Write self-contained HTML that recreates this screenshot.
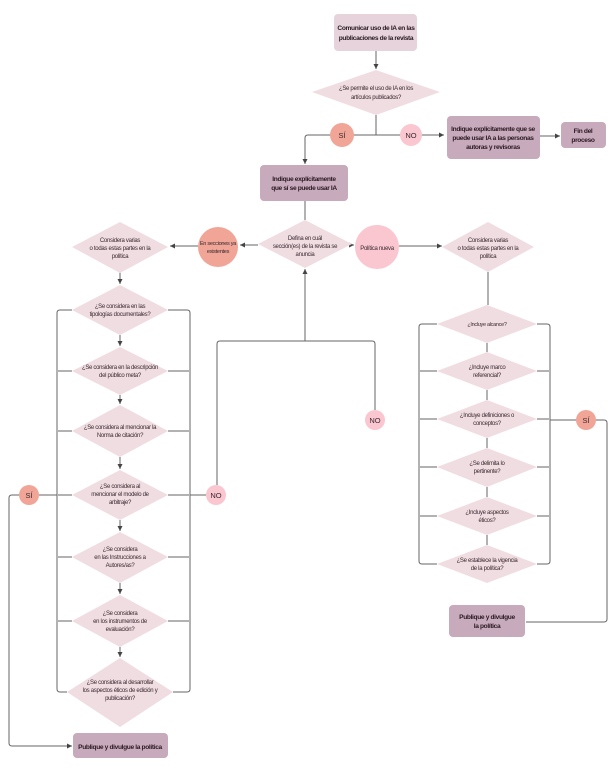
<!DOCTYPE html>
<html><head><meta charset="utf-8"><style>
html,body{margin:0;padding:0;background:#fff;}
svg{display:block;}
text{font-family:"Liberation Sans",sans-serif;font-size:6px;fill:#3a2a30;text-anchor:middle;letter-spacing:-0.3px;}
.b{font-weight:bold;font-size:6.6px;fill:#2a1a22;letter-spacing:-0.35px;}
.c{font-size:7.5px;fill:#3a2a30;letter-spacing:0;}
</style></head><body>
<svg width="616" height="774" viewBox="0 0 616 774" xmlns="http://www.w3.org/2000/svg">
<defs><marker id="a" markerWidth="6" markerHeight="6" refX="5" refY="3" orient="auto" markerUnits="userSpaceOnUse"><path d="M0,0.5 L5,3 L0,5.5z" fill="#444"/></marker></defs>
<g fill="none" stroke="#666" stroke-width="1">
<line x1="376" y1="51" x2="376" y2="69" marker-end="url(#a)"/>
<path d="M376,115 V135 M376,135 H308 Q305,135 305,138 V164" marker-end="url(#a)"/>
<path d="M376,135 H444" marker-end="url(#a)"/>
<line x1="540" y1="136" x2="560" y2="136" marker-end="url(#a)"/>
<line x1="305" y1="201" x2="305" y2="220"/>
<line x1="258" y1="245" x2="240" y2="245" marker-end="url(#a)"/>
<line x1="198" y1="246" x2="170" y2="246" marker-end="url(#a)"/>
<line x1="352" y1="245" x2="354" y2="245" marker-end="url(#a)"/>
<line x1="399" y1="246" x2="442" y2="246" marker-end="url(#a)"/>
<path d="M217,485 V344 Q217,341 220,341 H372 Q375,341 375,344 V410"/>
<line x1="305" y1="341" x2="305" y2="269" marker-end="url(#a)"/>
<line x1="120" y1="272" x2="120" y2="284" marker-end="url(#a)"/>
<line x1="120" y1="335" x2="120" y2="346" marker-end="url(#a)"/>
<line x1="120" y1="395" x2="120" y2="404" marker-end="url(#a)"/>
<line x1="120" y1="457" x2="120" y2="469" marker-end="url(#a)"/>
<line x1="120" y1="520" x2="120" y2="531" marker-end="url(#a)"/>
<line x1="120" y1="583" x2="120" y2="594" marker-end="url(#a)"/>
<line x1="120" y1="647" x2="120" y2="657" marker-end="url(#a)"/>
<path d="M72,310 H60 Q57,310 57,313 V689 Q57,692 60,692 H67"/>
<path d="M168,310 H187 Q190,310 190,313 V689 Q190,692 187,692 H173"/>
<path d="M72,371 H58 M72,431 H58 M72,495 H58 M72,557 H58 M72,621 H58"/>
<path d="M168,371 H189 M168,431 H189 M168,495 H189 M168,557 H189 M168,621 H189"/>
<line x1="190" y1="495" x2="206" y2="495"/>
<line x1="57" y1="495" x2="39" y2="495"/>
<path d="M19,495 H12 Q9,495 9,498 V743 Q9,746 12,746 H72" marker-end="url(#a)"/>
<line x1="488" y1="272" x2="488" y2="305"/>
<line x1="487" y1="343" x2="487" y2="352"/>
<line x1="487" y1="390" x2="487" y2="400"/>
<line x1="487" y1="438" x2="487" y2="448"/>
<line x1="487" y1="487" x2="487" y2="497"/>
<line x1="487" y1="535" x2="487" y2="545"/>
<path d="M437,324 H422 Q419,324 419,327 V561 Q419,564 422,564 H437"/>
<path d="M537,324 H547 Q550,324 550,327 V561 Q550,564 547,564 H537"/>
<path d="M437,371 H420 M437,419 H420 M437,467 H420 M437,516 H420"/>
<path d="M537,371 H549 M537,419 H549 M537,467 H549 M537,516 H549"/>
<line x1="550" y1="420" x2="576" y2="420"/>
<path d="M596,420 H604 Q607,420 607,423 V619 Q607,622 604,622 H526"/>
</g>
<rect x="334" y="14" width="83" height="37" rx="4" fill="#e6d3dc"/>
<text class="b" x="376" y="30">Comunicar uso de IA en las</text>
<text class="b" x="376" y="40">publicaciones de la revista</text>
<polygon points="376,70 440,92 376,115 312,92" fill="#f0dde2"/>
<text x="376" y="90">¿Se permite el uso de IA en los</text>
<text x="376" y="99">artículos publicados?</text>
<circle cx="342" cy="135" r="12" style="fill:#f0a597"/>
<text class="c" x="342" y="138">SÍ</text>
<circle cx="411" cy="135" r="11" fill="#fac6cf"/>
<text class="c" x="411" y="138">NO</text>
<rect x="447" y="116" width="93" height="43" rx="4" fill="#c8aabd"/>
<text class="b" x="493" y="131">Indique explícitamente que se</text>
<text class="b" x="493" y="140">puede usar IA a las personas</text>
<text class="b" x="493" y="149">autoras y revisoras</text>
<rect x="561" y="122" width="45" height="26" rx="4" fill="#c8aabd"/>
<text class="b" x="583" y="133">Fin del</text>
<text class="b" x="583" y="142">proceso</text>
<rect x="260" y="165" width="88" height="36" rx="4" fill="#c8aabd"/>
<text class="b" x="304" y="181">Indique explícitamente</text>
<text class="b" x="304" y="190">que sí se puede usar IA</text>
<polygon points="305,220 352,244 305,268 258,244" fill="#f0dde2"/>
<text x="305" y="240">Defina en cuál</text>
<text x="305" y="248">sección(es) de la revista se</text>
<text x="305" y="256">anuncia</text>
<circle cx="218" cy="247" r="20" fill="#f0a597"/>
<text x="218" y="245" style="font-size:5.6px">En secciones ya</text>
<text x="218" y="253" style="font-size:5.6px">existentes</text>
<circle cx="377" cy="247" r="22" fill="#fac6cf"/>
<text x="377" y="250">Política nueva</text>
<polygon points="120,222 168,247 120,273 72,247" fill="#f0dde2"/>
<text x="120" y="242">Considera varias</text>
<text x="120" y="250">o todas estas partes en la</text>
<text x="120" y="258">política</text>
<polygon points="488,222 534,247 488,272 442,247" fill="#f0dde2"/>
<text x="488" y="242">Considera varias</text>
<text x="488" y="250">o todas estas partes en la</text>
<text x="488" y="258">política</text>
<polygon points="120,285 168,310 120,335 72,310" fill="#f0dde2"/>
<text x="120" y="308">¿Se considera en las</text><text x="120" y="316">tipologías documentales?</text>
<polygon points="120,347 168,371 120,395 72,371" fill="#f0dde2"/>
<text x="120" y="369">¿Se considera en la descripción</text><text x="120" y="377">del público meta?</text>
<polygon points="120,405 168,431 120,457 72,431" fill="#f0dde2"/>
<text x="120" y="429">¿Se considera al mencionar la</text><text x="120" y="437">Norma de citación?</text>
<polygon points="120,470 168,495 120,520 72,495" fill="#f0dde2"/>
<text x="120" y="488">¿Se considera al</text><text x="120" y="496">mencionar el modelo de</text><text x="120" y="504">arbitraje?</text>
<polygon points="120,532 168,557 120,583 72,557" fill="#f0dde2"/>
<text x="120" y="551">¿Se considera</text><text x="120" y="559">en las Instrucciones a</text><text x="120" y="567">Autores/as?</text>
<polygon points="120,595 168,621 120,647 72,621" fill="#f0dde2"/>
<text x="120" y="615">¿Se considera</text><text x="120" y="623">en los instrumentos de</text><text x="120" y="631">evaluación?</text>
<polygon points="120,658 173,692 120,727 67,692" fill="#f0dde2"/>
<text x="120" y="684">¿Se considera al desarrollar</text><text x="120" y="692">los aspectos éticos de edición y</text><text x="120" y="700">publicación?</text>
<rect x="73" y="733" width="95" height="25" rx="4" fill="#c8aabd"/>
<text class="b" x="120" y="749">Publique y divulgue la política</text>
<circle cx="29" cy="495" r="10" fill="#f0a597"/>
<text class="c" x="29" y="498">SÍ</text>
<circle cx="216" cy="495" r="10" fill="#fac6cf"/>
<text class="c" x="216" y="498">NO</text>
<circle cx="375" cy="420" r="10" fill="#fac6cf"/>
<text class="c" x="375" y="423">NO</text>
<polygon points="487,305 537,324 487,343 437,324" fill="#f0dde2"/>
<text x="487" y="326" style="font-size:5.5px">¿Incluye alcance?</text>
<polygon points="487,352 537,371 487,390 437,371" fill="#f0dde2"/>
<text x="487" y="369">¿Incluye marco</text><text x="487" y="377">referencial?</text>
<polygon points="487,400 537,419 487,438 437,419" fill="#f0dde2"/>
<text x="487" y="417">¿Incluye definiciones o</text><text x="487" y="425">conceptos?</text>
<polygon points="487,448 537,467 487,487 437,467" fill="#f0dde2"/>
<text x="487" y="465">¿Se delimita lo</text><text x="487" y="473">pertinente?</text>
<polygon points="487,497 537,516 487,535 437,516" fill="#f0dde2"/>
<text x="487" y="514">¿Incluye aspectos</text><text x="487" y="522">éticos?</text>
<polygon points="487,545 537,564 487,583 437,564" fill="#f0dde2"/>
<text x="487" y="562">¿Se establece la vigencia</text><text x="487" y="570">de la política?</text>
<circle cx="586" cy="420" r="10" fill="#f0a597"/>
<text class="c" x="586" y="423">SÍ</text>
<rect x="449" y="605" width="76" height="32" rx="4" fill="#c8aabd"/>
<text class="b" x="487" y="619">Publique y divulgue</text>
<text class="b" x="487" y="628">la política</text>
</svg>
</body></html>
